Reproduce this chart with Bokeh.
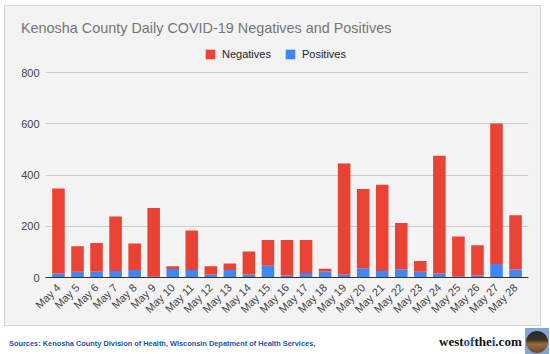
from math import pi
from bokeh.plotting import figure
from bokeh.models import (ColumnDataSource, FactorRange, Range1d, Legend, LegendItem,
                          FixedTicker, Div)
from bokeh.layouts import column
from bokeh.embed import file_html
from bokeh.resources import INLINE

days = ["May 4", "May 5", "May 6", "May 7", "May 8", "May 9", "May 10", "May 11",
        "May 12", "May 13", "May 14", "May 15", "May 16", "May 17", "May 18", "May 19",
        "May 20", "May 21", "May 22", "May 23", "May 24", "May 25", "May 26", "May 27",
        "May 28"]
positives = [16, 22, 22, 25, 29, 5, 33, 29, 12, 29, 12, 46, 8, 18, 23, 12,
             36, 25, 31, 22, 16, 5, 8, 53, 31]
negatives = [331, 100, 113, 213, 104, 266, 11, 154, 32, 26, 89, 100, 138, 128, 11, 433,
             309, 337, 182, 42, 459, 155, 118, 548, 212]
y_ticks = [0, 200, 400, 600, 800]

RED = "#ea4335"
BLUE = "#4285f4"
PANEL = "#f3f3f3"
FONT = "Liberation Sans"

# page geometry: panel content x 5..540, y 6..325 (1px border around)
CX, CY = 5, 6
CW = 535
TITLE_H = 34                      # title strip: y 6..40
FIG_TOP = CY + TITLE_H            # 40
FIG_H = 325 - FIG_TOP             # 285
FRAME_L, FRAME_R, FRAME_B = 45, 528, 277
PX_PER_UNIT = 205 / 800           # 800 gridline at y=72, 0 at y=277
Y_END = 800 + (72 - FIG_TOP) / PX_PER_UNIT

src = ColumnDataSource(dict(days=days, positives=positives, negatives=negatives))

p = figure(x_range=FactorRange(*days, range_padding=0.0144),
           y_range=Range1d(0, Y_END),
           width=CW, height=FIG_H, output_backend="svg", toolbar_location=None,
           min_border_left=FRAME_L - CX, min_border_right=(CX + CW) - FRAME_R,
           min_border_top=0, min_border_bottom=(FIG_TOP + FIG_H) - FRAME_B,
           background_fill_color=PANEL, border_fill_color=PANEL,
           outline_line_color=None, margin=(0, 0, 0, 0))

rs = p.vbar_stack(["positives", "negatives"], x="days", width=0.66, source=src,
                  color=[BLUE, RED], line_color=None)

# axes
p.xaxis.major_label_orientation = pi / 4
p.xaxis.major_tick_line_color = None
p.xaxis.minor_tick_line_color = None
p.xaxis.major_tick_out = 0
p.xaxis.major_tick_in = 0
p.xaxis.major_label_standoff = 8
p.xaxis.axis_line_color = "#333333"
p.xaxis.major_label_text_font = FONT
p.xaxis.major_label_text_font_size = "11px"
p.xaxis.major_label_text_color = "#444444"

p.yaxis.ticker = FixedTicker(ticks=y_ticks)
p.yaxis.axis_line_color = None
p.yaxis.major_tick_line_color = None
p.yaxis.minor_tick_line_color = None
p.yaxis.major_tick_out = 0
p.yaxis.major_tick_in = 0
p.yaxis.major_label_standoff = 6
p.yaxis.major_label_text_font = FONT
p.yaxis.major_label_text_font_size = "11px"
p.yaxis.major_label_text_color = "#444444"

p.xgrid.grid_line_color = None
p.ygrid.grid_line_color = "#cccccc"
p.ygrid.ticker = FixedTicker(ticks=y_ticks)

# legend inside the (upward-extended) frame
legend = Legend(items=[LegendItem(label="Negatives", renderers=[rs[1]]),
                       LegendItem(label="Positives", renderers=[rs[0]])],
                location=(204 - FRAME_L, FRAME_B - 60.3), orientation="horizontal",
                glyph_width=12, glyph_height=12, label_height=12,
                label_standoff=6, spacing=13, padding=0, margin=0,
                border_line_color=None, background_fill_alpha=0,
                label_text_font=FONT, label_text_font_size="11px",
                label_text_color="#222222", label_text_baseline="middle")
p.add_layout(legend)

title_html = (
    '<div style="position:relative;width:535px;height:34px;background:#f3f3f3;">'
    '<span style="position:absolute;left:16px;top:14px;white-space:nowrap;'
    'font-family:\'Liberation Sans\';font-size:14.4px;line-height:16px;color:#757575;">'
    'Kenosha County Daily COVID-19 Negatives and Positives</span></div>'
)
title_div = Div(text=title_html, width=CW, height=TITLE_H, margin=(0, 0, 0, 0))

panel = column(title_div, p, spacing=0, margin=(5, 0, 0, 4),
               styles={"border": "1px solid #d4d4d4", "background": PANEL})

footer_html = (
    '<div style="position:relative;width:550px;height:28px;background:#ffffff;">'
    '<span style="position:absolute;left:9px;top:13.5px;white-space:nowrap;'
    'font-family:\'Liberation Sans\';font-weight:bold;font-size:7.4px;line-height:8px;color:#2356a8;">'
    'Sources: Kenosha County Division of Health, Wisconsin Depatment of Health Services,'
    '</span>'
    '<span style="position:absolute;left:439px;top:8px;white-space:nowrap;'
    'font-family:\'Liberation Serif\';font-weight:bold;font-size:13px;line-height:16px;color:#111111;">'
    'west<span style="color:#1c4fa8;">of</span>the<span style="color:#1c4fa8;">i</span>.com'
    '</span>'
    '<div style="position:absolute;left:525px;top:2px;width:24px;height:26px;background:#7fa6d6;">'
    '<div style="position:absolute;left:1px;top:3px;width:22px;height:22px;border-radius:50%;'
    'background:linear-gradient(#2a2a2a 0%, #3a3026 40%, #9a6a40 60%, #6a4a33 100%);"></div>'
    '</div>'
    '</div>'
)
footer = Div(text=footer_html, width=550, height=28, margin=(0, 0, 0, 0))

layout = column(panel, footer, spacing=0, margin=(0, 0, 0, 0))

open("out.html", "w").write(file_html(layout, INLINE))
